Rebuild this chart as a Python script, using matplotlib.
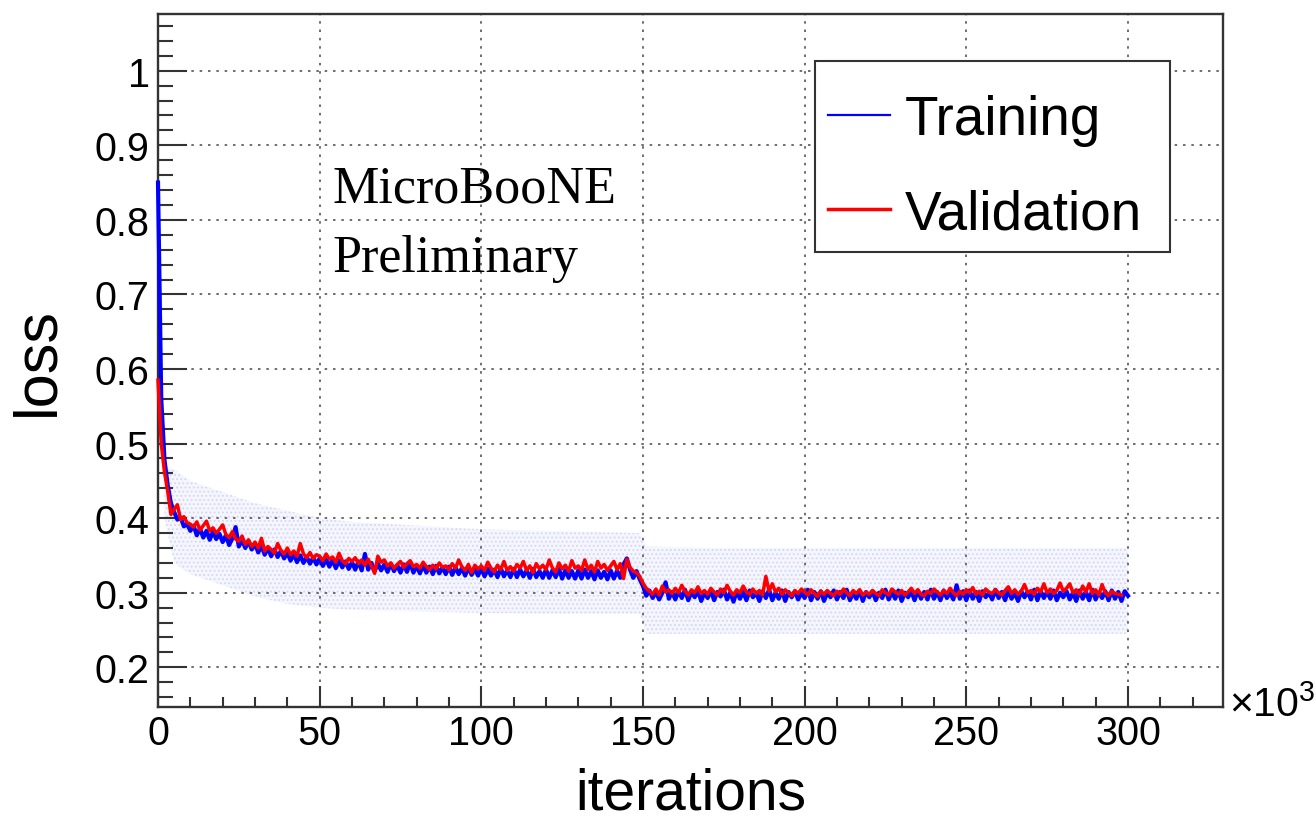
import numpy as np
import matplotlib
matplotlib.use('Agg')
import matplotlib.pyplot as plt
from matplotlib.patches import Rectangle
from matplotlib.ticker import MultipleLocator, FixedLocator, FixedFormatter

plt.rcParams['font.family'] = ['Liberation Sans', 'DejaVu Sans']
plt.rcParams['mathtext.fontset'] = 'custom'
plt.rcParams['mathtext.rm'] = 'Liberation Sans'
plt.rcParams['mathtext.it'] = 'Liberation Sans:italic'
plt.rcParams['hatch.color'] = '#d3d6f4'
plt.rcParams['hatch.linewidth'] = 0.8

# ---------------- data (iterations in units of 10^3) ----------------
iter_step_k = 1.0

train_loss = [
    0.850, 0.560, 0.478, 0.444, 0.420, 0.408, 0.398, 0.401, 0.389, 0.392,
    0.383, 0.390, 0.377, 0.386, 0.374, 0.383, 0.371, 0.382, 0.372, 0.379,
    0.368, 0.377, 0.364, 0.373, 0.388, 0.362, 0.371, 0.360, 0.369, 0.358,
    0.366, 0.354, 0.363, 0.351, 0.360, 0.349, 0.358, 0.348, 0.356, 0.346,
    0.354, 0.343, 0.352, 0.341, 0.350, 0.340, 0.348, 0.339, 0.347, 0.338,
    0.346, 0.336, 0.345, 0.335, 0.344, 0.333, 0.343, 0.334, 0.342, 0.332,
    0.341, 0.331, 0.342, 0.330, 0.352, 0.331, 0.340, 0.329, 0.339, 0.330,
    0.338, 0.328, 0.339, 0.329, 0.337, 0.327, 0.338, 0.328, 0.341, 0.327,
    0.336, 0.326, 0.337, 0.327, 0.335, 0.325, 0.336, 0.326, 0.334, 0.325,
    0.335, 0.324, 0.334, 0.325, 0.333, 0.323, 0.334, 0.324, 0.332, 0.323,
    0.333, 0.322, 0.332, 0.323, 0.331, 0.321, 0.333, 0.322, 0.330, 0.321,
    0.332, 0.321, 0.331, 0.322, 0.330, 0.320, 0.332, 0.321, 0.329, 0.320,
    0.331, 0.320, 0.330, 0.321, 0.332, 0.319, 0.330, 0.320, 0.329, 0.319,
    0.330, 0.319, 0.331, 0.320, 0.329, 0.318, 0.330, 0.320, 0.328, 0.318,
    0.330, 0.319, 0.329, 0.320, 0.338, 0.346, 0.331, 0.320, 0.329, 0.318,
    0.309, 0.296, 0.303, 0.293, 0.301, 0.291, 0.300, 0.314, 0.292, 0.301,
    0.291, 0.302, 0.293, 0.304, 0.290, 0.301, 0.294, 0.303, 0.289, 0.300,
    0.293, 0.303, 0.290, 0.301, 0.295, 0.304, 0.291, 0.300, 0.288, 0.302,
    0.292, 0.301, 0.290, 0.303, 0.294, 0.300, 0.289, 0.302, 0.293, 0.304,
    0.290, 0.300, 0.292, 0.303, 0.289, 0.301, 0.294, 0.302, 0.291, 0.300,
    0.293, 0.304, 0.290, 0.301, 0.292, 0.302, 0.289, 0.300, 0.294, 0.303,
    0.291, 0.301, 0.293, 0.304, 0.290, 0.300, 0.292, 0.303, 0.289, 0.301,
    0.294, 0.302, 0.290, 0.300, 0.293, 0.304, 0.291, 0.301, 0.292, 0.303,
    0.289, 0.300, 0.294, 0.302, 0.290, 0.303, 0.292, 0.301, 0.291, 0.304,
    0.292, 0.301, 0.290, 0.303, 0.293, 0.300, 0.291, 0.310, 0.292, 0.302,
    0.290, 0.303, 0.292, 0.301, 0.289, 0.302, 0.294, 0.300, 0.291, 0.304,
    0.293, 0.301, 0.290, 0.303, 0.292, 0.300, 0.289, 0.302, 0.294, 0.301,
    0.291, 0.304, 0.290, 0.302, 0.293, 0.301, 0.292, 0.303, 0.290, 0.300,
    0.294, 0.302, 0.291, 0.300, 0.289, 0.303, 0.292, 0.301, 0.290, 0.304,
    0.291, 0.300, 0.293, 0.302, 0.290, 0.303, 0.292, 0.301, 0.289, 0.302,
    0.296,
]

val_loss = [
    0.585, 0.500, 0.462, 0.436, 0.405, 0.412, 0.418, 0.398, 0.402, 0.394,
    0.392, 0.388, 0.395, 0.384, 0.390, 0.396, 0.383, 0.387, 0.380, 0.385,
    0.391, 0.378, 0.374, 0.382, 0.372, 0.369, 0.376, 0.365, 0.371, 0.362,
    0.368, 0.360, 0.373, 0.356, 0.362, 0.358, 0.353, 0.366, 0.357, 0.352,
    0.360, 0.351, 0.356, 0.349, 0.366, 0.352, 0.347, 0.354, 0.346, 0.351,
    0.349, 0.343, 0.352, 0.345, 0.348, 0.341, 0.353, 0.343, 0.339, 0.346,
    0.342, 0.347, 0.339, 0.344, 0.337, 0.345, 0.336, 0.326, 0.349, 0.341,
    0.344, 0.336, 0.340, 0.333, 0.338, 0.342, 0.334, 0.339, 0.343, 0.335,
    0.338, 0.333, 0.341, 0.335, 0.331, 0.337, 0.332, 0.340, 0.334, 0.336,
    0.331, 0.339, 0.333, 0.344, 0.335, 0.330, 0.338, 0.327, 0.337, 0.332,
    0.336, 0.330, 0.341, 0.333, 0.328, 0.337, 0.331, 0.342, 0.330, 0.335,
    0.329, 0.338, 0.333, 0.342, 0.330, 0.336, 0.327, 0.339, 0.332, 0.337,
    0.331, 0.344, 0.333, 0.328, 0.340, 0.332, 0.337, 0.329, 0.343, 0.333,
    0.336, 0.330, 0.344, 0.331, 0.337, 0.328, 0.342, 0.333, 0.338, 0.330,
    0.336, 0.342, 0.331, 0.339, 0.319, 0.345, 0.334, 0.329, 0.327, 0.322,
    0.313, 0.306, 0.302, 0.298, 0.305, 0.297, 0.309, 0.301, 0.304, 0.299,
    0.306, 0.300, 0.310, 0.302, 0.297, 0.304, 0.300, 0.308, 0.299, 0.303,
    0.298, 0.306, 0.301, 0.297, 0.305, 0.300, 0.310, 0.302, 0.297, 0.304,
    0.300, 0.309, 0.301, 0.298, 0.305, 0.299, 0.303, 0.297, 0.322, 0.302,
    0.312, 0.301, 0.306, 0.298, 0.304, 0.300, 0.296, 0.303, 0.299, 0.305,
    0.301, 0.297, 0.304, 0.299, 0.295, 0.302, 0.298, 0.303, 0.299, 0.296,
    0.302, 0.298, 0.305, 0.300, 0.296, 0.303, 0.299, 0.304, 0.297, 0.301,
    0.298, 0.303, 0.299, 0.296, 0.304, 0.300, 0.297, 0.305, 0.301, 0.298,
    0.303, 0.297, 0.301, 0.306, 0.299, 0.304, 0.298, 0.296, 0.302, 0.299,
    0.305, 0.301, 0.297, 0.303, 0.299, 0.306, 0.300, 0.296, 0.302, 0.298,
    0.304, 0.300, 0.307, 0.298, 0.302, 0.297, 0.305, 0.301, 0.299, 0.304,
    0.300, 0.297, 0.303, 0.308, 0.299, 0.304, 0.298, 0.302, 0.311, 0.300,
    0.303, 0.298, 0.306, 0.301, 0.312, 0.300, 0.305, 0.299, 0.303, 0.313,
    0.302, 0.306, 0.312, 0.300, 0.304, 0.298, 0.309, 0.301, 0.312, 0.299,
    0.304, 0.297, 0.311, 0.300, 0.296, 0.302, 0.299, 0.298, 0.297,
]

# spread of the training loss (faint band)
band_iter = [2, 5, 10, 20, 30, 40, 50, 60, 80, 100, 120, 149, 151, 175, 200, 225, 250, 275, 300]
band_hi = [0.47, 0.465, 0.45, 0.435, 0.42, 0.41, 0.40, 0.395, 0.39, 0.385, 0.383, 0.38,
           0.362, 0.36, 0.36, 0.36, 0.36, 0.36, 0.36]
band_lo = [0.40, 0.34, 0.325, 0.31, 0.295, 0.285, 0.28, 0.277, 0.275, 0.273, 0.272, 0.272,
           0.245, 0.245, 0.245, 0.245, 0.245, 0.245, 0.245]

y_ticks = [0.2, 0.3, 0.4, 0.5, 0.6, 0.7, 0.8, 0.9, 1.0]
y_tick_labels = ['0.2', '0.3', '0.4', '0.5', '0.6', '0.7', '0.8', '0.9', '1']
x_ticks = [0, 50, 100, 150, 200, 250, 300]
x_tick_labels = ['0', '50', '100', '150', '200', '250', '300']

train_iter = np.arange(len(train_loss)) * iter_step_k
val_iter = np.arange(len(val_loss)) * iter_step_k

# ---------------- figure ----------------
W, H = 1316, 820
fig = plt.figure(figsize=(W / 100, H / 100), dpi=100)
L, R, T, B = 158, 1223, 15, 708
ax = fig.add_axes([L / W, 1 - B / H, (R - L) / W, (B - T) / H])

ax.fill_between(band_iter, band_lo, band_hi, facecolor='#f4f5fd', edgecolor='#d3d6f4',
                hatch='....', linewidth=0, zorder=1)
l_train, = ax.plot(train_iter, train_loss, color='#0000ff', lw=3.0, zorder=3,
                   label='Training', clip_on=False)
l_val, = ax.plot(val_iter, val_loss, color='#ff0000', lw=2.5, zorder=4,
                 label='Validation', clip_on=False)

ax.set_xlim(0, 329.4)
ax.set_ylim(0.1468, 1.076)

ax.xaxis.set_major_locator(FixedLocator(x_ticks))
ax.xaxis.set_major_formatter(FixedFormatter(x_tick_labels))
ax.xaxis.set_minor_locator(MultipleLocator(10))
ax.yaxis.set_major_locator(FixedLocator(y_ticks))
ax.yaxis.set_major_formatter(FixedFormatter(y_tick_labels))
ax.yaxis.set_minor_locator(MultipleLocator(0.02))

ax.tick_params(axis='both', which='both', direction='in', top=False, right=False,
               color='#333333', width=1.5)
ax.tick_params(axis='x', which='major', length=15, labelsize=28.5, pad=5)
ax.tick_params(axis='x', which='minor', length=7)
ax.tick_params(axis='y', which='major', length=21, labelsize=28.5, pad=6)
ax.tick_params(axis='y', which='minor', length=11)

ax.grid(True, which='major', color='#555555', lw=1.2, linestyle=(0, (1.5, 3.5)), zorder=2)
for s in ax.spines.values():
    s.set_linewidth(1.7)
    s.set_color('#333333')
    s.set_zorder(2.5)

ax.set_xlabel('iterations', fontsize=41)
ax.xaxis.set_label_coords(0.5, (B - 810) / (B - T))
ax.xaxis.label.set_verticalalignment('baseline')
ax.set_ylabel('loss', fontsize=44)
ax.yaxis.set_label_coords((53 - L) / (R - L), 0.5)
ax.yaxis.label.set_verticalalignment('baseline')

fig.text(1229 / W, 1 - 717 / H, '×10$^{3}$', fontsize=29.5, ha='left', va='baseline')

serif = ['Liberation Serif', 'DejaVu Serif']
ax.text((332 - L) / (R - L), (B - 203) / (B - T), 'MicroBooNE', transform=ax.transAxes,
        family=serif, fontsize=37.5, ha='left', va='baseline', zorder=7)
ax.text((332 - L) / (R - L), (B - 272) / (B - T), 'Preliminary', transform=ax.transAxes,
        family=serif, fontsize=37.5, ha='left', va='baseline', zorder=7)

# legend frame
ax.add_patch(Rectangle(((815 - L) / (R - L), (B - 253) / (B - T)), (1170 - 815) / (R - L),
                       (253 - 62) / (B - T), transform=ax.transAxes, facecolor='white',
                       edgecolor='#333333', lw=1.5, zorder=8, clip_on=False))
leg = ax.legend(handles=[l_train, l_val], loc='upper left',
                bbox_to_anchor=((828 - L) / (R - L), (B - 95) / (B - T)),
                frameon=False, borderpad=0, borderaxespad=0, fontsize=39.5,
                handlelength=1.13, handletextpad=0.27, labelspacing=0.77)
leg.set_zorder(9)
for h in leg.legend_handles:
    h.set_linewidth(1.6 if h.get_label() == 'Training' else 2.5)
leg.legend_handles[0].set_linewidth(1.6)
leg.legend_handles[1].set_linewidth(2.5)

fig.savefig('out.png', dpi=100, facecolor='white')
